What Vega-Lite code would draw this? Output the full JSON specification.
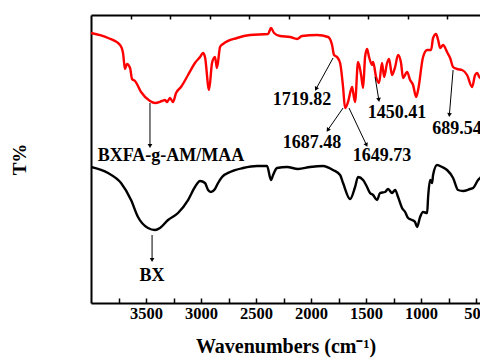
{
  "$schema": "https://vega.github.io/schema/vega-lite/v6.json",
  "autosize": "none",
  "padding": {"left": 91, "top": 15, "right": 0, "bottom": 55},
  "width": 389,
  "height": 288,
  "background": "white",
  "config": {
    "view": {"stroke": null},
    "font": "Liberation Serif"
  },
  "datasets": {
    "spectra": [
      {"wn": 4000, "t": 270, "sample": "BXFA-g-AM/MAA"},
      {"wn": 3845, "t": 265, "sample": "BXFA-g-AM/MAA"},
      {"wn": 3736, "t": 258, "sample": "BXFA-g-AM/MAA"},
      {"wn": 3709, "t": 250, "sample": "BXFA-g-AM/MAA"},
      {"wn": 3691, "t": 234, "sample": "BXFA-g-AM/MAA"},
      {"wn": 3673, "t": 239, "sample": "BXFA-g-AM/MAA"},
      {"wn": 3645, "t": 235, "sample": "BXFA-g-AM/MAA"},
      {"wn": 3627, "t": 224, "sample": "BXFA-g-AM/MAA"},
      {"wn": 3600, "t": 222, "sample": "BXFA-g-AM/MAA"},
      {"wn": 3545, "t": 211, "sample": "BXFA-g-AM/MAA"},
      {"wn": 3464, "t": 202, "sample": "BXFA-g-AM/MAA"},
      {"wn": 3418, "t": 200, "sample": "BXFA-g-AM/MAA"},
      {"wn": 3355, "t": 202, "sample": "BXFA-g-AM/MAA"},
      {"wn": 3327, "t": 203, "sample": "BXFA-g-AM/MAA"},
      {"wn": 3309, "t": 201, "sample": "BXFA-g-AM/MAA"},
      {"wn": 3282, "t": 205, "sample": "BXFA-g-AM/MAA"},
      {"wn": 3255, "t": 201, "sample": "BXFA-g-AM/MAA"},
      {"wn": 3227, "t": 210, "sample": "BXFA-g-AM/MAA"},
      {"wn": 3182, "t": 216, "sample": "BXFA-g-AM/MAA"},
      {"wn": 3118, "t": 228, "sample": "BXFA-g-AM/MAA"},
      {"wn": 3055, "t": 240, "sample": "BXFA-g-AM/MAA"},
      {"wn": 3009, "t": 246, "sample": "BXFA-g-AM/MAA"},
      {"wn": 2982, "t": 250, "sample": "BXFA-g-AM/MAA"},
      {"wn": 2964, "t": 246, "sample": "BXFA-g-AM/MAA"},
      {"wn": 2927, "t": 213, "sample": "BXFA-g-AM/MAA"},
      {"wn": 2900, "t": 240, "sample": "BXFA-g-AM/MAA"},
      {"wn": 2873, "t": 246, "sample": "BXFA-g-AM/MAA"},
      {"wn": 2855, "t": 235, "sample": "BXFA-g-AM/MAA"},
      {"wn": 2827, "t": 256, "sample": "BXFA-g-AM/MAA"},
      {"wn": 2800, "t": 259, "sample": "BXFA-g-AM/MAA"},
      {"wn": 2673, "t": 265, "sample": "BXFA-g-AM/MAA"},
      {"wn": 2555, "t": 268, "sample": "BXFA-g-AM/MAA"},
      {"wn": 2391, "t": 269, "sample": "BXFA-g-AM/MAA"},
      {"wn": 2364, "t": 275, "sample": "BXFA-g-AM/MAA"},
      {"wn": 2336, "t": 270, "sample": "BXFA-g-AM/MAA"},
      {"wn": 2282, "t": 267, "sample": "BXFA-g-AM/MAA"},
      {"wn": 2191, "t": 266, "sample": "BXFA-g-AM/MAA"},
      {"wn": 2127, "t": 264, "sample": "BXFA-g-AM/MAA"},
      {"wn": 2082, "t": 267, "sample": "BXFA-g-AM/MAA"},
      {"wn": 1945, "t": 268, "sample": "BXFA-g-AM/MAA"},
      {"wn": 1845, "t": 266, "sample": "BXFA-g-AM/MAA"},
      {"wn": 1809, "t": 258, "sample": "BXFA-g-AM/MAA"},
      {"wn": 1791, "t": 248, "sample": "BXFA-g-AM/MAA"},
      {"wn": 1764, "t": 246, "sample": "BXFA-g-AM/MAA"},
      {"wn": 1736, "t": 240, "sample": "BXFA-g-AM/MAA"},
      {"wn": 1709, "t": 216, "sample": "BXFA-g-AM/MAA"},
      {"wn": 1691, "t": 195, "sample": "BXFA-g-AM/MAA"},
      {"wn": 1664, "t": 201, "sample": "BXFA-g-AM/MAA"},
      {"wn": 1627, "t": 216, "sample": "BXFA-g-AM/MAA"},
      {"wn": 1618, "t": 211, "sample": "BXFA-g-AM/MAA"},
      {"wn": 1600, "t": 201, "sample": "BXFA-g-AM/MAA"},
      {"wn": 1573, "t": 241, "sample": "BXFA-g-AM/MAA"},
      {"wn": 1545, "t": 228, "sample": "BXFA-g-AM/MAA"},
      {"wn": 1527, "t": 215, "sample": "BXFA-g-AM/MAA"},
      {"wn": 1509, "t": 246, "sample": "BXFA-g-AM/MAA"},
      {"wn": 1491, "t": 254, "sample": "BXFA-g-AM/MAA"},
      {"wn": 1473, "t": 246, "sample": "BXFA-g-AM/MAA"},
      {"wn": 1445, "t": 238, "sample": "BXFA-g-AM/MAA"},
      {"wn": 1436, "t": 241, "sample": "BXFA-g-AM/MAA"},
      {"wn": 1409, "t": 226, "sample": "BXFA-g-AM/MAA"},
      {"wn": 1382, "t": 220, "sample": "BXFA-g-AM/MAA"},
      {"wn": 1355, "t": 240, "sample": "BXFA-g-AM/MAA"},
      {"wn": 1336, "t": 226, "sample": "BXFA-g-AM/MAA"},
      {"wn": 1309, "t": 240, "sample": "BXFA-g-AM/MAA"},
      {"wn": 1291, "t": 244, "sample": "BXFA-g-AM/MAA"},
      {"wn": 1264, "t": 228, "sample": "BXFA-g-AM/MAA"},
      {"wn": 1236, "t": 236, "sample": "BXFA-g-AM/MAA"},
      {"wn": 1209, "t": 248, "sample": "BXFA-g-AM/MAA"},
      {"wn": 1182, "t": 240, "sample": "BXFA-g-AM/MAA"},
      {"wn": 1164, "t": 225, "sample": "BXFA-g-AM/MAA"},
      {"wn": 1127, "t": 231, "sample": "BXFA-g-AM/MAA"},
      {"wn": 1100, "t": 223, "sample": "BXFA-g-AM/MAA"},
      {"wn": 1073, "t": 218, "sample": "BXFA-g-AM/MAA"},
      {"wn": 1045, "t": 206, "sample": "BXFA-g-AM/MAA"},
      {"wn": 1027, "t": 213, "sample": "BXFA-g-AM/MAA"},
      {"wn": 982, "t": 246, "sample": "BXFA-g-AM/MAA"},
      {"wn": 945, "t": 253, "sample": "BXFA-g-AM/MAA"},
      {"wn": 909, "t": 253, "sample": "BXFA-g-AM/MAA"},
      {"wn": 891, "t": 265, "sample": "BXFA-g-AM/MAA"},
      {"wn": 864, "t": 269, "sample": "BXFA-g-AM/MAA"},
      {"wn": 845, "t": 263, "sample": "BXFA-g-AM/MAA"},
      {"wn": 827, "t": 255, "sample": "BXFA-g-AM/MAA"},
      {"wn": 800, "t": 258, "sample": "BXFA-g-AM/MAA"},
      {"wn": 764, "t": 251, "sample": "BXFA-g-AM/MAA"},
      {"wn": 736, "t": 245, "sample": "BXFA-g-AM/MAA"},
      {"wn": 709, "t": 236, "sample": "BXFA-g-AM/MAA"},
      {"wn": 673, "t": 234, "sample": "BXFA-g-AM/MAA"},
      {"wn": 627, "t": 233, "sample": "BXFA-g-AM/MAA"},
      {"wn": 582, "t": 228, "sample": "BXFA-g-AM/MAA"},
      {"wn": 536, "t": 216, "sample": "BXFA-g-AM/MAA"},
      {"wn": 509, "t": 228, "sample": "BXFA-g-AM/MAA"},
      {"wn": 491, "t": 230, "sample": "BXFA-g-AM/MAA"},
      {"wn": 464, "t": 225, "sample": "BXFA-g-AM/MAA"},
      {"wn": 409, "t": 231, "sample": "BXFA-g-AM/MAA"},
      {"wn": 4000, "t": 136, "sample": "BX"},
      {"wn": 3845, "t": 130, "sample": "BX"},
      {"wn": 3727, "t": 120, "sample": "BX"},
      {"wn": 3636, "t": 103, "sample": "BX"},
      {"wn": 3573, "t": 86, "sample": "BX"},
      {"wn": 3482, "t": 75, "sample": "BX"},
      {"wn": 3418, "t": 73, "sample": "BX"},
      {"wn": 3373, "t": 75, "sample": "BX"},
      {"wn": 3300, "t": 83, "sample": "BX"},
      {"wn": 3209, "t": 90, "sample": "BX"},
      {"wn": 3118, "t": 103, "sample": "BX"},
      {"wn": 3055, "t": 116, "sample": "BX"},
      {"wn": 3009, "t": 122, "sample": "BX"},
      {"wn": 2964, "t": 120, "sample": "BX"},
      {"wn": 2936, "t": 113, "sample": "BX"},
      {"wn": 2909, "t": 111, "sample": "BX"},
      {"wn": 2873, "t": 114, "sample": "BX"},
      {"wn": 2845, "t": 120, "sample": "BX"},
      {"wn": 2809, "t": 126, "sample": "BX"},
      {"wn": 2736, "t": 131, "sample": "BX"},
      {"wn": 2618, "t": 135, "sample": "BX"},
      {"wn": 2491, "t": 137, "sample": "BX"},
      {"wn": 2400, "t": 137, "sample": "BX"},
      {"wn": 2364, "t": 123, "sample": "BX"},
      {"wn": 2345, "t": 128, "sample": "BX"},
      {"wn": 2309, "t": 135, "sample": "BX"},
      {"wn": 2218, "t": 136, "sample": "BX"},
      {"wn": 2118, "t": 134, "sample": "BX"},
      {"wn": 2009, "t": 136, "sample": "BX"},
      {"wn": 1891, "t": 137, "sample": "BX"},
      {"wn": 1800, "t": 133, "sample": "BX"},
      {"wn": 1736, "t": 128, "sample": "BX"},
      {"wn": 1709, "t": 120, "sample": "BX"},
      {"wn": 1645, "t": 104, "sample": "BX"},
      {"wn": 1600, "t": 116, "sample": "BX"},
      {"wn": 1573, "t": 126, "sample": "BX"},
      {"wn": 1527, "t": 123, "sample": "BX"},
      {"wn": 1491, "t": 116, "sample": "BX"},
      {"wn": 1464, "t": 110, "sample": "BX"},
      {"wn": 1436, "t": 108, "sample": "BX"},
      {"wn": 1400, "t": 103, "sample": "BX"},
      {"wn": 1373, "t": 110, "sample": "BX"},
      {"wn": 1327, "t": 111, "sample": "BX"},
      {"wn": 1300, "t": 114, "sample": "BX"},
      {"wn": 1264, "t": 110, "sample": "BX"},
      {"wn": 1236, "t": 113, "sample": "BX"},
      {"wn": 1209, "t": 106, "sample": "BX"},
      {"wn": 1173, "t": 95, "sample": "BX"},
      {"wn": 1145, "t": 91, "sample": "BX"},
      {"wn": 1118, "t": 85, "sample": "BX"},
      {"wn": 1082, "t": 83, "sample": "BX"},
      {"wn": 1055, "t": 81, "sample": "BX"},
      {"wn": 1036, "t": 76, "sample": "BX"},
      {"wn": 1009, "t": 86, "sample": "BX"},
      {"wn": 982, "t": 91, "sample": "BX"},
      {"wn": 945, "t": 90, "sample": "BX"},
      {"wn": 936, "t": 106, "sample": "BX"},
      {"wn": 918, "t": 123, "sample": "BX"},
      {"wn": 900, "t": 120, "sample": "BX"},
      {"wn": 891, "t": 128, "sample": "BX"},
      {"wn": 855, "t": 138, "sample": "BX"},
      {"wn": 809, "t": 136, "sample": "BX"},
      {"wn": 764, "t": 133, "sample": "BX"},
      {"wn": 709, "t": 125, "sample": "BX"},
      {"wn": 664, "t": 113, "sample": "BX"},
      {"wn": 618, "t": 112, "sample": "BX"},
      {"wn": 555, "t": 114, "sample": "BX"},
      {"wn": 527, "t": 115, "sample": "BX"},
      {"wn": 482, "t": 123, "sample": "BX"},
      {"wn": 464, "t": 125, "sample": "BX"},
      {"wn": 409, "t": 131, "sample": "BX"}
    ],
    "arrows": [
      {"id": "BXFA", "wn1": 3464, "t1": 200, "wn2": 3464, "t2": 157},
      {"id": "BX", "wn1": 3445, "t1": 68, "wn2": 3445, "t2": 43},
      {"id": "1719.82", "wn1": 1800, "t1": 245, "wn2": 1955, "t2": 214},
      {"id": "1687.48", "wn1": 1709, "t1": 195, "wn2": 1848, "t2": 173},
      {"id": "1649.73", "wn1": 1655, "t1": 195, "wn2": 1496, "t2": 158},
      {"id": "1450.41", "wn1": 1418, "t1": 226, "wn2": 1384, "t2": 203},
      {"id": "689.54", "wn1": 709, "t1": 233, "wn2": 743, "t2": 188}
    ],
    "labels": [
      {"label": "BXFA-g-AM/MAA", "wn": 3273, "t": 147},
      {"label": "BX", "wn": 3445, "t": 27},
      {"label": "1719.82", "wn": 2082, "t": 203},
      {"label": "1687.48", "wn": 1991, "t": 160},
      {"label": "1649.73", "wn": 1355, "t": 147},
      {"label": "1450.41", "wn": 1218, "t": 190},
      {"label": "689.54", "wn": 673, "t": 174}
    ]
  },
  "resolve": {"axis": {"x": "independent"}},
  "layer": [
    {
      "data": {"name": "spectra"},
      "mark": {"type": "line", "strokeWidth": 2.4, "clip": true, "interpolate": "monotone"},
      "encoding": {
        "x": {
          "field": "wn", "type": "quantitative",
          "scale": {"domain": [464.5, 4000], "reverse": true, "nice": false, "zero": false},
          "axis": {
            "orient": "bottom",
            "values": [3750, 3500, 3250, 3000, 2750, 2500, 2250, 2000, 1750, 1500, 1250, 1000, 750, 500],
            "format": "d",
            "labelExpr": "datum.value % 500 === 0 ? datum.label : ''",
            "labelFont": "Liberation Serif", "labelFontWeight": "bold", "labelFontSize": 16.5, "labelColor": "black",
            "labelPadding": 7, "labelFlush": false, "labelOverlap": false,
            "tickSize": -5, "tickWidth": 1.5, "tickColor": "black",
            "domainColor": "black", "domainWidth": 2,
            "grid": false,
            "title": "Wavenumbers (cm⁻¹)",
            "titleFont": "Liberation Serif", "titleFontWeight": "bold", "titleFontSize": 20, "titleColor": "black",
            "titlePadding": 15
          }
        },
        "y": {
          "field": "t", "type": "quantitative",
          "scale": {"domain": [0, 288], "nice": false, "zero": false},
          "axis": {
            "orient": "left", "labels": false, "ticks": false, "grid": false,
            "domainColor": "black", "domainWidth": 2,
            "title": "T%",
            "titleFont": "Liberation Serif", "titleFontWeight": "bold", "titleFontSize": 19, "titleColor": "black",
            "titlePadding": 62
          }
        },
        "color": {
          "field": "sample", "type": "nominal",
          "scale": {"domain": ["BXFA-g-AM/MAA", "BX"], "range": ["#ff0000", "#000000"]},
          "legend": null
        },
        "detail": {"field": "sample"}
      }
    },
    {
      "data": {"name": "arrows"},
      "mark": {"type": "rule", "color": "black", "strokeWidth": 1},
      "encoding": {
        "x": {"field": "wn1", "type": "quantitative", "axis": null},
        "y": {"field": "t1", "type": "quantitative"},
        "x2": {"field": "wn2"},
        "y2": {"field": "t2"}
      }
    },
    {
      "data": {"name": "arrows"},
      "transform": [
        {"calculate": "atan2(-(datum.wn1 - datum.wn2) * 0.11, (datum.t1 - datum.t2)) * 180 / PI", "as": "ang"}
      ],
      "mark": {"type": "point", "shape": "triangle-down", "filled": true, "color": "black", "size": 22, "opacity": 1},
      "encoding": {
        "x": {"field": "wn2", "type": "quantitative", "axis": null},
        "y": {"field": "t2", "type": "quantitative"},
        "angle": {"field": "ang", "type": "quantitative", "scale": null}
      }
    },
    {
      "data": {"name": "labels"},
      "mark": {"type": "text", "font": "Liberation Serif", "fontWeight": "bold", "fontSize": 18, "color": "black", "align": "center", "baseline": "middle"},
      "encoding": {
        "x": {
          "field": "wn", "type": "quantitative",
          "axis": {
            "orient": "top",
            "values": [3640, 3280, 2920, 2560, 2200, 1840, 1480, 1120, 760],
            "labels": false, "tickSize": -4, "tickWidth": 1.5, "tickColor": "black",
            "domainColor": "black", "domainWidth": 2, "grid": false, "title": null
          }
        },
        "y": {"field": "t", "type": "quantitative"},
        "text": {"field": "label"}
      }
    }
  ]
}
